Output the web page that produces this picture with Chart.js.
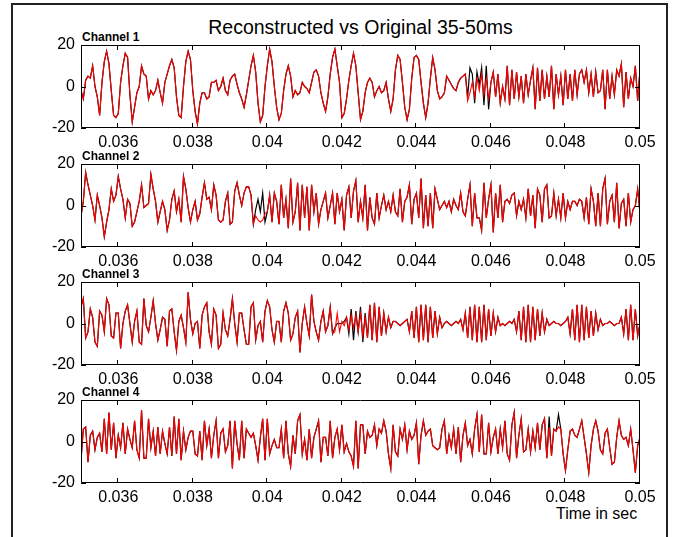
<!DOCTYPE html>
<html>
<head>
<meta charset="utf-8">
<script src="https://cdn.jsdelivr.net/npm/chart.js@4.4.0/dist/chart.umd.min.js"></script>
<style>
  body { margin: 0; background: #fff; width: 689px; height: 537px; overflow: hidden; position: relative;
         font-family: "Liberation Sans", Arial, sans-serif; }
  #frame { position: absolute; left: 11px; top: 3px; width: 653px; height: 560px; border: 2px solid #222; border-bottom: none; }
  .txt { position: absolute; color: #000; white-space: nowrap; }
  #title { left: 81px; width: 559px; top: 17px; font-size: 19.5px; line-height: 21px; text-align: center; }
  .chan { font-size: 12px; font-weight: bold; line-height: 12px; left: 82px; }
  #xlabel { left: 556px; top: 505px; font-size: 16px; line-height: 18px; }
  .plot { position: absolute; left: 0; }
</style>
</head>
<body>
<div id="frame"></div>
<div id="title" class="txt">Reconstructed vs Original 35-50ms</div>
<div id="xlabel" class="txt">Time in sec</div>

<script>
// sampling
const t0 = 0.035;
const sampleRate = 16000;

// axes
const xTicks = [0.036, 0.038, 0.040, 0.042, 0.044, 0.046, 0.048, 0.050];
const xTickLabels = ['0.036', '0.038', '0.04', '0.042', '0.044', '0.046', '0.048', '0.05'];
const yTicks = [-20, 0, 20];
const yTickLabels = ['-20', '0', '20'];
const channelNames = ['Channel 1', 'Channel 2', 'Channel 3', 'Channel 4'];

// original signals
const ch1Original = [
  -2,-6,3,5,4,10,0,-5,-14,2, 12,17,11,-2,-14,-15,-13,2,10,16, 14,-4,-17,-10,-3,0,10,6,5,-6,
  -2,-4,-2,3,-3,-8,2,6,10,13, 9,-5,-14,-15,0,12,17,13,-2,-12, -18,-8,-3,-3,-6,-5,2,2,3,-2,
  0,4,-2,-4,3,5,6,1,-3,-6, -10,-4,3,10,15,7,-8,-17,-14,0, 10,18,12,0,-10,-16,-13,-2,6,10,
  5,-5,-2,-4,-3,2,0,-1,-3,2, 7,8,5,-3,-8,-12,-5,6,14,18, 10,2,-15,-13,-6,3,10,16,10,-3,
  -16,-12,-3,2,4,2,-5,-2,0,-3, -2,2,-6,-12,-6,8,15,13,2,-10, -16,-11,4,14,15,13,2,-8,-15,-8,
  4,14,8,-2,-6,-5,-3,5,3,1, -1,-2,2,4,
  5,6,-5,9,6,-8,7,1,9,-9, 10,-11,2,7,-5,6,-8,0,-6,10, -9,8,-6,7,-5,5,-8,6,-4,3,
  9,-11,9,-7,8,-6,5,-5,10,-11, 6,-4,5,-9,8,-6,6,-7,8,-4, 6,8,2,8,-3,6,-5,7,-3,-2,
  8,-11,8,-6,5,-4,8,5,11,-10, 7,-6,4,0,10,-7,8
];
const ch2Original = [
  -5,2,16,10,5,0,-7,5,0,-6, -15,-8,-2,8,2,5,14,8,3,-6, 3,1,-10,-8,-3,2,10,-1,0,1,
  15,8,2,-8,-3,2,-2,-12,-7,3, 7,-3,3,-8,14,8,-1,-8,-2,2, -7,-4,4,11,3,4,-2,10,5,-7,
  -8,-7,2,6,-9,-8,7,11,5,0, 6,9,9,5,-9,-2,3,-3,6,-8,
  -3,5,-8,6,2,-9,10,-6,3,-11, 13,-8,-3,11,-12,10,-6,9,-12,10, -3,6,-9,-2,2,6,-6,0,6,-9,
  6,-3,3,-12,5,9,-6,7,12,-8, 2,-6,10,-12,4,
  -6,-9,6,-6,0,5,-2,2,-3,5, -3,-5,8,-8,2,4,10,-9,3,6, -6,13,-11,5,-10,
  6,-11,8,3,-2,0,2,-1,2,-3, 3,0,-2,6,-3,-5,3,10,-10,6,
  -6,-6,-12,11,-6,3,10,-13,6,-6, 10,-8,2,3,1,5,6,-5,2,-2,
  3,-6,8,-5,5,-11,8,5,-8,8, 10,-6,-5,6,-5,3,-6,6,-6,2, -2,2,2,0,
  3,2,-6,4,-9,8,2,-10,6,-10, 8,13,-9,2,5,-8,11,-11,1,3, -10,6,-8,-2,0,8,-4
];
const ch3Original = [
  8,12,-7,-4,7,3,-9,-11,6,4, -4,12,9,-6,-7,5,5,-12,0,6, 9,0,-9,1,6,-9,-10,12,-1,-4,
  3,11,0,-8,-3,3,2,-11,6,7, -4,-13,1,4,-2,-9,15,2,-5,0, 1,-12,4,8,10,-4,-10,7,4,-12,
  -10,5,-3,-6,2,12,0,-9,5,5, -3,-10,-10,8,10,-8,-1,1,-9,6, 11,8,-3,-9,1,1,-9,6,10,5,
  -8,-5,3,6,-14,0,8,0,-6,14, 1,-4,-8,1,6,-4,-1,8,-5,
  -2,0,0,0,1,
  3,-5,7,-8,6,-4,8,-9,5,-7,9,-8,10,-9,8,-6,5,-4,3,-2,1,
  1,0,-1,0,1,
  2,-4,6,-7,8,-9,9,-8,9,-9,8,-7,6,-5,3,-2,
  0,1,0,-1,0,1,0,
  2,-3,5,-7,8,-8,9,-9,8,-9,9,-8,7,-6,5,-4,3,-1,
  0,-1,0,1,0,
  2,-4,6,-8,8,-9,9,-9,8,-8,7,-6,5,-4,2,-1,
  0,1,0,0,-1,0,1,
  3,-5,7,-8,9,-9,9,-8,8,-7,6,-6,5,-3,2,-1,
  0,0,1,0,-1,0,0,
  3,-5,7,-8,9,-8,7,-6,0
];
const ch4Original = [
  -9,6,7,-10,3,5,-4,2,4,-5, 11,-6,14,-4,9,-8,3,-3,9,-6, 6,1,-3,10,-4,-8,15,-8,-8,11,
  -3,5,-7,7,-6,5,-1,-6,7,-7, 12,-6,11,-9,5,-4,2,5,5,-6, -7,5,-9,10,-2,6,-8,3,10,-8,
  4,6,-5,-2,10,-13,10,-1,-9,10, -8,6,4,2,4,-2,-9,2,11,-9, 11,-6,-2,1,-3,-3,6,-8,10,-6,
  -12,3,-6,10,13,-6,1,-9,6,-8, 2,6,10,-10,2,2,-7,10,-8,2, 6,-4,8,-5,-1,-5,-7,-12,10,-13,
  8,
  8,-6,5,2,3,8,-2,6,4,10, 5,-6,-13,8,-5,-7,6,1,8,-4, 5,1,3,9,-11,3,10,3,5,6,
  -2,-3,-4,-3,6,10,-6,3,-3,6, -6,7,-10,3,9,-2,1,-6,6,13, -5,13,-6,-6,9,-5,2,6,-6,6,
  -3,10,-6,-9,8,14,-8,3,11,-5, -4,6,-5,5,-3,9,-4,8,11,-8, 12,-7,6,5,13,6,
  -6,-14,-4,5,6,3,2,6,10,2, -6,-15,-2,6,10,5,-4,-6,4,6, -3,-11,-10,2,10,3,1,2,-2,6,
  -4,-15,-2,2
];

// reconstructed signal: same as original except where the picture shows it apart
const ch1RecStart = 166;
const ch1RecSegment = [-7, -3, 2, -5, 4, -2, 6, -4, 4, -6];
const ch2RecStart = 75;
const ch2RecSegment = [-5, -7, -8, -7, -4];
const ch3RecStart = 109;
const ch3RecSegment = [-4, 5, -4, 1, -1, 3, -3, 4, -2, 4, -4, 5, -6, 3];
const ch4RecStart = 201;
const ch4RecSegment = [7, -7, 6, 5, 7];

// layout
const plotTops = [45, 164, 282, 400];
const plotLeft = 81, plotRight = 640, plotHeight = 83;
const padTop = 18, xAxisHeight = 30;

function withSegment(orig, start, seg) {
  const out = orig.slice();
  seg.forEach((v, i) => { out[start + i] = v; });
  return out;
}

function toPoints(values) {
  return values.map((v, i) => ({ x: t0 + i / sampleRate, y: v }));
}

const channels = [
  [ch1Original, withSegment(ch1Original, ch1RecStart, ch1RecSegment)],
  [ch2Original, withSegment(ch2Original, ch2RecStart, ch2RecSegment)],
  [ch3Original, withSegment(ch3Original, ch3RecStart, ch3RecSegment)],
  [ch4Original, withSegment(ch4Original, ch4RecStart, ch4RecSegment)]
];

// matlab style box with inward ticks
const boxPlugin = {
  id: 'box',
  afterDatasetsDraw(chart) {
    const { ctx, chartArea: a, scales } = chart;
    ctx.save();
    ctx.strokeStyle = '#000';
    ctx.lineWidth = 1;
    ctx.beginPath();
    ctx.rect(a.left + 0.5, a.top + 0.5, a.right - a.left - 1, a.bottom - a.top - 1);
    xTicks.forEach(v => {
      const px = Math.round(scales.x.getPixelForValue(v)) - 0.5;
      ctx.moveTo(px, a.bottom); ctx.lineTo(px, a.bottom - 5);
      ctx.moveTo(px, a.top); ctx.lineTo(px, a.top + 5);
    });
    yTicks.forEach(v => {
      const py = Math.round(scales.y.getPixelForValue(v)) + 0.5;
      ctx.moveTo(a.left, py); ctx.lineTo(a.left + 5, py);
      ctx.moveTo(a.right, py); ctx.lineTo(a.right - 5, py);
    });
    ctx.stroke();
    ctx.restore();
  }
};

channels.forEach(([orig, rec], k) => {
  const top = plotTops[k];
  const label = document.createElement('div');
  label.className = 'txt chan';
  label.style.top = (top - 14) + 'px';
  label.textContent = channelNames[k];
  document.body.appendChild(label);

  const wrap = document.createElement('div');
  wrap.className = 'plot';
  wrap.style.top = (top - padTop) + 'px';
  const canvas = document.createElement('canvas');
  canvas.width = 689;
  canvas.height = padTop + plotHeight + xAxisHeight;
  wrap.appendChild(canvas);
  document.body.appendChild(wrap);

  new Chart(canvas, {
    type: 'line',
    data: {
      datasets: [
        { data: toPoints(rec), borderColor: '#ff0000', borderWidth: 1.1, order: 0 },
        { data: toPoints(orig), borderColor: '#000000', borderWidth: 1.2, order: 1 }
      ]
    },
    options: {
      responsive: false,
      animation: false,
      devicePixelRatio: 1,
      events: [],
      layout: { padding: { top: padTop, left: 0, right: 689 - plotRight, bottom: 0 } },
      elements: { point: { radius: 0 }, line: { tension: 0 } },
      plugins: { legend: { display: false }, tooltip: { enabled: false } },
      scales: {
        x: {
          type: 'linear', min: 0.035, max: 0.05,
          grid: { display: false, drawTicks: false }, border: { display: false },
          afterBuildTicks: s => { s.ticks = xTicks.map(v => ({ value: v })); },
          afterFit: s => { s.height = xAxisHeight; },
          ticks: {
            autoSkip: false, maxRotation: 0, padding: 5, color: '#000',
            font: { family: 'Liberation Sans', size: 16 },
            callback: (v, i) => xTickLabels[i]
          }
        },
        y: {
          min: -20, max: 20,
          grid: { display: false, drawTicks: false }, border: { display: false },
          afterBuildTicks: s => { s.ticks = yTicks.map(v => ({ value: v })); },
          afterFit: s => { s.width = plotLeft; },
          ticks: {
            padding: 6, color: '#000',
            font: { family: 'Liberation Sans', size: 16 },
            callback: (v, i) => yTickLabels[i]
          }
        }
      }
    },
    plugins: [boxPlugin]
  });
});
</script>
</body>
</html>
